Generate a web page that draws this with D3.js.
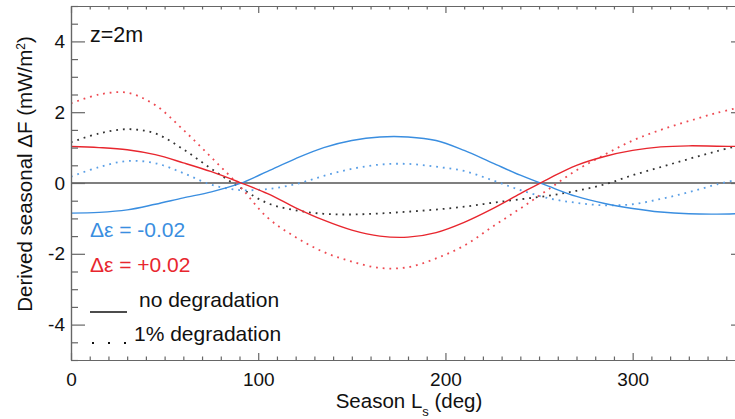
<!DOCTYPE html>
<html>
<head>
<meta charset="utf-8">
<script src="https://cdn.jsdelivr.net/npm/d3@7"></script>
<style>
  body { margin: 0; background: #fff; }
  svg { display: block; font-family: "Liberation Sans", Arial, sans-serif; }
</style>
</head>
<body>
<svg id="chart" width="735" height="419"></svg>
<script>
// season Ls (deg), sampled every 15 deg
var ls = [0, 15, 30, 45, 60, 75, 90, 105, 120, 135, 150, 165, 180,
          195, 210, 225, 240, 255, 270, 285, 300, 315, 330, 345, 360];

// derived seasonal dF (mW/m2)
var blueSolid = [-0.85, -0.83, -0.76, -0.60, -0.42, -0.25, -0.02, 0.33, 0.69, 1.00, 1.20, 1.30, 1.30,
                 1.20, 0.92, 0.57, 0.22, -0.09, -0.38, -0.58, -0.72, -0.82, -0.87, -0.88, -0.86];
var redSolid = [1.03, 1.00, 0.94, 0.80, 0.57, 0.32, 0.02, -0.30, -0.70, -1.05, -1.33, -1.50, -1.53,
                -1.40, -1.11, -0.73, -0.30, 0.12, 0.50, 0.75, 0.92, 1.02, 1.05, 1.04, 1.03];
var redDotted = [2.25, 2.50, 2.55, 2.20, 1.50, 0.72, -0.08, -0.98, -1.53, -1.95, -2.22, -2.40, -2.38,
                 -2.13, -1.77, -1.24, -0.72, -0.18, 0.36, 0.80, 1.20, 1.50, 1.75, 1.98, 2.17];
var blackDotted = [1.15, 1.40, 1.52, 1.40, 0.95, 0.40, -0.12, -0.57, -0.77, -0.87, -0.89, -0.86, -0.81,
                   -0.75, -0.67, -0.56, -0.46, -0.36, -0.22, -0.04, 0.22, 0.45, 0.68, 0.90, 1.10];
var blueDotted = [0.18, 0.45, 0.62, 0.56, 0.28, -0.05, -0.20, -0.17, -0.03, 0.20, 0.40, 0.52, 0.54,
                  0.46, 0.34, 0.08, -0.20, -0.43, -0.56, -0.63, -0.60, -0.45, -0.26, -0.04, 0.14];

var xTicks = [0, 100, 200, 300];
var yTicks = [-4, -2, 0, 2, 4];

var blue = "#3a8ee0", red = "#e8262e", axisCol = "#666";

var svg = d3.select("#chart");
var marge = {left: 71, top: 6, right: 745, bottom: 360};

var x = d3.scaleLinear().domain([0, 360]).range([marge.left, marge.right]);
var y = d3.scaleLinear().domain([-5, 5]).range([marge.bottom, marge.top]);

svg.append("clipPath").attr("id", "clip")
  .append("rect")
  .attr("x", marge.left).attr("y", marge.top)
  .attr("width", marge.right - marge.left).attr("height", marge.bottom - marge.top);

// zero line
svg.append("line")
  .attr("x1", x(0)).attr("x2", x(360))
  .attr("y1", y(0)).attr("y2", y(0))
  .attr("stroke", "#555").attr("stroke-width", 1.5);

var line = d3.line()
  .x(function(d){ return x(d[0]); })
  .y(function(d){ return y(d[1]); })
  .curve(d3.curveCatmullRom.alpha(0.5));

var series = [
  {vals: blackDotted, color: "#333", dotted: true},
  {vals: blueDotted, color: "#5a9fe6", dotted: true},
  {vals: redDotted, color: "#ee4a52", dotted: true},
  {vals: blueSolid, color: blue, dotted: false},
  {vals: redSolid, color: red, dotted: false}
];

var plot = svg.append("g").attr("clip-path", "url(#clip)");
series.forEach(function(s){
  var pts = ls.map(function(l, i){ return [l, s.vals[i]]; });
  plot.append("path")
    .attr("d", line(pts))
    .attr("fill", "none")
    .attr("stroke", s.color)
    .attr("stroke-width", s.dotted ? 1.8 : 1.4)
    .attr("stroke-dasharray", s.dotted ? "1.8,4.9" : null);
});

// axes, ticks pointing inward
function styleAxis(g){
  g.selectAll("path, line").attr("stroke", axisCol).attr("stroke-width", 1.2);
  g.selectAll("text").attr("fill", "#111").style("font-size", "19px")
    .style("font-family", "'Liberation Sans', Arial, sans-serif");
}
var minorX = d3.range(0, 361, 10).filter(function(v){ return v % 100 != 0; });
var minorY = d3.range(-5, 5.01, 0.5).filter(function(v){ return v % 2 != 0; });

// bottom
svg.append("g").attr("transform", "translate(0," + marge.bottom + ")")
  .call(d3.axisBottom(x).tickValues(xTicks).tickSize(-7).tickSizeOuter(0).tickPadding(13)
    .tickFormat(d3.format("d")))
  .call(styleAxis);
svg.append("g").attr("transform", "translate(0," + marge.bottom + ")")
  .call(d3.axisBottom(x).tickValues(minorX).tickSize(-3.5).tickSizeOuter(0).tickFormat(""))
  .call(styleAxis);
// top
svg.append("g").attr("transform", "translate(0," + marge.top + ")")
  .call(d3.axisTop(x).tickValues(xTicks).tickSize(-7).tickSizeOuter(0).tickFormat(""))
  .call(styleAxis);
svg.append("g").attr("transform", "translate(0," + marge.top + ")")
  .call(d3.axisTop(x).tickValues(minorX).tickSize(-3.5).tickSizeOuter(0).tickFormat(""))
  .call(styleAxis);
// left
svg.append("g").attr("transform", "translate(" + marge.left + ",0)")
  .call(d3.axisLeft(y).tickValues(yTicks).tickSize(-14).tickSizeOuter(0).tickPadding(6)
    .tickFormat(function(d){ return d; }))
  .call(styleAxis);
svg.append("g").attr("transform", "translate(" + marge.left + ",0)")
  .call(d3.axisLeft(y).tickValues(minorY).tickSize(-7).tickSizeOuter(0).tickFormat(""))
  .call(styleAxis);
// right
svg.append("g").attr("transform", "translate(" + marge.right + ",0)")
  .call(d3.axisRight(y).tickValues(yTicks).tickSize(-14).tickSizeOuter(0).tickFormat(""))
  .call(styleAxis);
svg.append("g").attr("transform", "translate(" + marge.right + ",0)")
  .call(d3.axisRight(y).tickValues(minorY).tickSize(-7).tickSizeOuter(0).tickFormat(""))
  .call(styleAxis);

// axis titles
svg.append("text")
  .attr("x", 409).attr("y", 408)
  .attr("text-anchor", "middle").style("font-size", "20.5px").attr("fill", "#111")
  .html('Season L<tspan baseline-shift="sub" font-size="13px">s</tspan> (deg)');

svg.append("text")
  .attr("transform", "translate(32,174) rotate(-90)")
  .attr("text-anchor", "middle").style("font-size", "20.5px").attr("fill", "#111")
  .html('Derived seasonal \u0394F (mW/m<tspan baseline-shift="super" font-size="12px">2</tspan>)');

// annotations / legend
svg.append("text").attr("x", 90).attr("y", 42)
  .style("font-size", "21.5px").attr("fill", "#111").text("z=2m");

svg.append("text").attr("x", 90).attr("y", 237)
  .style("font-size", "21px").attr("fill", blue).text("\u0394\u03b5 = -0.02");
svg.append("text").attr("x", 90).attr("y", 272)
  .style("font-size", "21px").attr("fill", red).text("\u0394\u03b5 = +0.02");

svg.append("line").attr("x1", 90).attr("x2", 127).attr("y1", 312).attr("y2", 312)
  .attr("stroke", "#111").attr("stroke-width", 1.5);
svg.append("text").attr("x", 139).attr("y", 307)
  .style("font-size", "21px").attr("fill", "#111").text("no degradation");

svg.append("line").attr("x1", 92).attr("x2", 126).attr("y1", 343).attr("y2", 343)
  .attr("stroke", "#111").attr("stroke-width", 2).attr("stroke-dasharray", "2,14");
svg.append("text").attr("x", 134).attr("y", 341)
  .style("font-size", "21px").attr("fill", "#111").text("1% degradation");
</script>
</body>
</html>
